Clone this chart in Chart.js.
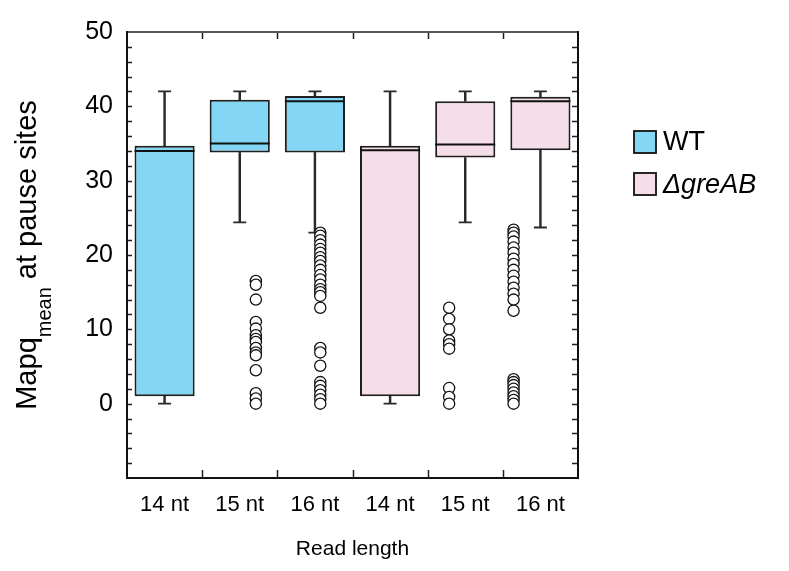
<!DOCTYPE html>
<html><head><meta charset="utf-8">
<script src="https://cdn.jsdelivr.net/npm/chart.js@4/dist/chart.umd.min.js"></script>
<style>html,body{margin:0;padding:0;background:#fff}#wrap{width:789px;height:571px;position:relative}</style>
</head><body><div id="wrap"><canvas id="c" width="789" height="571"></canvas></div>
<script>
// ---- data ----
const categories = ['14 nt', '15 nt', '16 nt', '14 nt', '15 nt', '16 nt'];
const groups = ['WT', 'ΔgreAB'];
const groupColors = ['#84D7F4', '#F5DEEA'];
const whiskerLow = [0, 24.4, 23.0, 0, 24.4, 23.7];
const q1 = [1.0, 33.8, 33.8, 1.0, 33.1, 34.1];
const median = [34.0, 35.0, 40.7, 34.1, 34.85, 40.7];
const q3 = [34.7, 40.9, 41.4, 34.7, 40.7, 41.3];
const whiskerHigh = [42, 42, 42, 42, 42, 42];
const outliersWT14 = [];
const outliersWT15 = [16.5, 16.0, 14.0, 11.0, 10.1, 9.2, 8.7, 8.3, 7.5, 6.9, 6.5, 4.5, 1.4, 0.7, 0.0];
const outliersWT16 = [23.0, 22.6, 22.0, 21.4, 20.8, 20.3, 19.7, 19.2, 18.6, 18.0, 17.3, 16.7, 16.0, 15.4, 15.0, 14.5, 12.9, 7.5, 6.9, 5.1, 2.9, 2.4, 1.8, 1.2, 0.6, 0.0];
const outliersDA14 = [];
const outliersDA15 = [12.9, 11.4, 10.0, 8.5, 8.0, 7.4, 2.1, 0.9, 0.0];
const outliersDA16 = [23.4, 23.0, 22.5, 21.8, 21.0, 20.3, 19.5, 18.8, 18.0, 17.2, 16.4, 15.6, 14.8, 14.0, 12.5, 3.3, 2.9, 2.5, 2.0, 1.5, 1.0, 0.5, 0.0];
const yTickLabels = [0, 10, 20, 30, 40, 50];
const xTitle = 'Read length';
const yTitleMain = 'Mapq';
const yTitleSub = 'mean';
const yTitleRest = ' at pause sites';

// ---- derived structures ----
const groupOf = [0, 0, 0, 1, 1, 1];
const outlierLists = [outliersWT14, outliersWT15, outliersWT16, outliersDA14, outliersDA15, outliersDA16];
const boxData = g => categories.map((c, i) => groupOf[i] === g ? [q1[i], q3[i]] : null);
const upperStem = categories.map((c, i) => [q3[i], whiskerHigh[i]]);
const lowerStem = categories.map((c, i) => [whiskerLow[i], q1[i]]);
const outlierPoints = [];
outlierLists.forEach((list, i) => list.forEach(v => outlierPoints.push({x: i, y: v})));

const FONT = '"Liberation Sans", Arial, Helvetica, sans-serif';
const INK = '#1e1e1e';

const framePlugin = {
  id: 'frame',
  afterDatasetsDraw(chart) {
    const {ctx, chartArea: a, scales} = chart;
    const y = scales.y, x = scales.x;
    ctx.save();
    ctx.lineCap = 'butt';
    ctx.strokeStyle = INK; ctx.lineWidth = 1.5;
    for (let v = y.min + 2; v < y.max; v += 2) {
      const py = Math.round(y.getPixelForValue(v)) + 0.5;
      ctx.beginPath(); ctx.moveTo(a.left, py); ctx.lineTo(a.left + 5, py); ctx.stroke();
      ctx.beginPath(); ctx.moveTo(a.right, py); ctx.lineTo(a.right - 6, py); ctx.stroke();
    }
    for (let i = 0; i < categories.length - 1; i++) {
      const px = Math.round((x.getPixelForValue(i) + x.getPixelForValue(i + 1)) / 2) + 0.5;
      ctx.beginPath(); ctx.moveTo(px, a.top); ctx.lineTo(px, a.top + 7); ctx.stroke();
      ctx.beginPath(); ctx.moveTo(px, a.bottom); ctx.lineTo(px, a.bottom - 8); ctx.stroke();
    }
    ctx.lineWidth = 2;
    ctx.strokeStyle = '#555555';
    ctx.beginPath(); ctx.moveTo(a.left, a.top); ctx.lineTo(a.right, a.top); ctx.stroke();
    ctx.strokeStyle = '#111111';
    ctx.beginPath(); ctx.moveTo(a.left, a.top - 1); ctx.lineTo(a.left, a.bottom); ctx.lineTo(a.right, a.bottom); ctx.lineTo(a.right, a.top - 1); ctx.stroke();
    ctx.restore();
  },
  afterDraw(chart) {
    const {ctx, chartArea: a} = chart;
    ctx.save();
    const mainFont = '29px ' + FONT, subFont = '20px ' + FONT;
    ctx.font = mainFont; const w1 = ctx.measureText(yTitleMain).width; const w3 = ctx.measureText(yTitleRest).width;
    ctx.font = subFont; const w2 = ctx.measureText(yTitleSub).width;
    const total = w1 + w2 + w3;
    const cy = (a.top + a.bottom) / 2;
    ctx.translate(36, cy);
    ctx.rotate(-Math.PI / 2);
    ctx.fillStyle = '#000';
    ctx.textBaseline = 'alphabetic'; ctx.textAlign = 'left';
    let sx = -total / 2;
    ctx.font = mainFont; ctx.fillText(yTitleMain, sx, 0); sx += w1;
    ctx.font = subFont; ctx.fillText(yTitleSub, sx, 15); sx += w2;
    ctx.font = mainFont; ctx.fillText(yTitleRest, sx, 0);
    ctx.restore();
    ctx.save();
    groups.forEach((g, k) => {
      const top = 131 + k * 42;
      ctx.fillStyle = groupColors[k];
      ctx.fillRect(634, top, 22, 22);
      ctx.strokeStyle = '#111'; ctx.lineWidth = 1.8;
      ctx.strokeRect(634, top, 22, 22);
      ctx.fillStyle = '#000';
      ctx.font = (k === 1 ? 'italic ' : '') + '27px ' + FONT;
      ctx.textBaseline = 'middle'; ctx.textAlign = 'left';
      ctx.fillText(g, 663, top + 12);
    });
    ctx.restore();
  }
};

new Chart(document.getElementById('c'), {
  type: 'bar',
  data: {
    labels: categories,
    datasets: [
      {label: groups[0], data: boxData(0), backgroundColor: groupColors[0], borderColor: INK, borderWidth: 2, borderSkipped: false, grouped: false, categoryPercentage: 1, barPercentage: 0.8, order: 4},
      {label: groups[1], data: boxData(1), backgroundColor: groupColors[1], borderColor: INK, borderWidth: 2, borderSkipped: false, grouped: false, categoryPercentage: 1, barPercentage: 0.8, order: 4},
      {label: 'upper whisker', data: upperStem, backgroundColor: '#2a2a2a', borderWidth: 0, grouped: false, barThickness: 1.8, order: 6},
      {label: 'lower whisker', data: lowerStem, backgroundColor: '#2a2a2a', borderWidth: 0, grouped: false, barThickness: 1.8, order: 6},
      {type: 'line', label: 'median', data: median, showLine: false, pointStyle: 'line', pointRadius: 30, pointBorderWidth: 2, pointBorderColor: '#111', pointBackgroundColor: '#111', order: 3},
      {type: 'line', label: 'cap high', data: whiskerHigh, showLine: false, pointStyle: 'line', pointRadius: 6.5, pointBorderWidth: 1.8, pointBorderColor: '#2a2a2a', order: 3},
      {type: 'line', label: 'cap low', data: whiskerLow, showLine: false, pointStyle: 'line', pointRadius: 6.5, pointBorderWidth: 1.8, pointBorderColor: '#2a2a2a', order: 5},
      {type: 'scatter', label: 'outliers', data: outlierPoints, xAxisID: 'xo', pointStyle: 'circle', pointRadius: 5.6, pointBorderWidth: 1.3, pointBorderColor: '#111', pointBackgroundColor: '#fff', order: 2}
    ]
  },
  options: {
    responsive: false,
    animation: false,
    events: [],
    devicePixelRatio: 1,
    layout: {padding: {left: 0, top: 27, right: 211, bottom: 0}},
    plugins: {legend: {display: false}, tooltip: {enabled: false}},
    scales: {
      x: {
        type: 'category', offset: true,
        grid: {display: false, drawTicks: false}, border: {display: false},
        ticks: {color: '#000', font: {family: FONT, size: 22}, padding: 14, maxRotation: 0, autoSkip: false},
        title: {display: true, text: xTitle, color: '#000', font: {family: FONT, size: 21}, padding: {top: 0, bottom: 9}},
        afterFit: s => { s.height = 93; }
      },
      xo: {type: 'linear', min: -0.5, max: categories.length - 0.5, display: false},
      y: {
        type: 'linear', min: -10, max: 50,
        grid: {display: false, drawTicks: false}, border: {display: false},
        ticks: {stepSize: 10, color: '#000', font: {family: FONT, size: 25}, padding: 14,
          callback: v => yTickLabels.includes(v) ? String(v) : ''},
        afterFit: s => { s.width = 127; }
      }
    }
  },
  plugins: [framePlugin]
});
</script></body></html>
